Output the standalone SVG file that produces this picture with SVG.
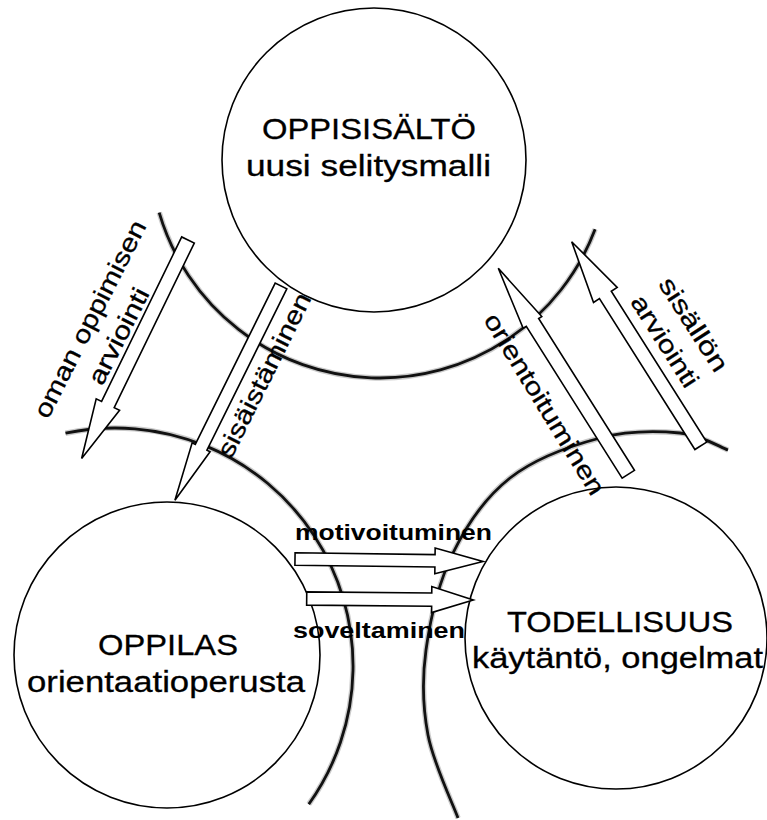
<svg xmlns="http://www.w3.org/2000/svg" xmlns:xlink="http://www.w3.org/1999/xlink" width="767" height="820" viewBox="0 0 767 820">
<style>
.halo{fill:none;stroke:#8a8a8a;stroke-width:5.5;opacity:0.45}
.arc{fill:none;stroke:#111;stroke-width:2.8}
.node{fill:#fff;stroke:#000;stroke-width:1.6}
.arrow{fill:#fff;stroke:#000;stroke-width:1.6;stroke-linejoin:miter}
.title{font-family:"Liberation Sans",Arial,sans-serif;font-size:30px;fill:#000;stroke:#000;stroke-width:0.3;text-anchor:start}
.lbl{font-family:"Liberation Sans",Arial,sans-serif;font-size:25px;fill:#000;stroke:#000;stroke-width:0.3;text-anchor:middle}
.hlbl{font-family:"Liberation Sans",Arial,sans-serif;font-size:22px;font-weight:bold;fill:#000;text-anchor:start}
</style>
<defs>
<path id="arcTop" d="M159.2,212.6 A230,230 0 0 0 595.1,229.3"/>
<path id="arcLeft" d="M65.5,433.2 A238,238 0 0 1 308.8,804.2"/>
<path id="arcRight" d="M458,818 C453,804.2 433.3,763 428,735 C422.7,707 421.8,680.3 426,650 C430.2,619.7 439,581.7 453,553 C467,524.3 485.5,497.2 510,478 C534.5,458.8 571.7,445.5 600,438 C628.3,430.5 658.7,431 680,433 C701.3,435 720,447.2 728,450"/>
</defs>
<rect width="767" height="820" fill="#fff"/>
<g id="arcs">
<use xlink:href="#arcTop" class="halo"/><use xlink:href="#arcTop" class="arc"/>
<use xlink:href="#arcLeft" class="halo"/><use xlink:href="#arcLeft" class="arc"/>
<use xlink:href="#arcRight" class="halo"/><use xlink:href="#arcRight" class="arc"/>
</g>
<g id="node-oppisisalto">
<circle class="node" cx="374" cy="160" r="152"/>
<text class="title" x="262" y="139" textLength="214" lengthAdjust="spacingAndGlyphs" font-size="28">OPPISISÄLTÖ</text>
<text class="title" x="246" y="176" textLength="245" lengthAdjust="spacingAndGlyphs" font-size="28">uusi selitysmalli</text>
</g>
<g id="node-oppilas">
<circle class="node" cx="167" cy="655" r="153"/>
<text class="title" x="98" y="655" textLength="140" lengthAdjust="spacingAndGlyphs">OPPILAS</text>
<text class="title" x="27" y="692" textLength="278" lengthAdjust="spacingAndGlyphs">orientaatioperusta</text>
</g>
<g id="node-todellisuus">
<circle class="node" cx="616" cy="638" r="151"/>
<text class="title" x="507" y="632" textLength="226" lengthAdjust="spacingAndGlyphs">TODELLISUUS</text>
<text class="title" x="472" y="668" textLength="291" lengthAdjust="spacingAndGlyphs">käytäntö, ongelmat</text>
</g>
<g id="connectors">
<polygon class="arrow" transform="translate(188,240) rotate(115.96)" points="0,-7 183,-7 183,-13 243,0 183,13 183,7 0,7"/>
<polygon class="arrow" transform="translate(281,286) rotate(116.35)" points="0,-6.5 180,-6.5 180,-10 239,0 180,10 180,6.5 0,6.5"/>
<polygon class="arrow" transform="translate(628.3,474.2) rotate(-122.27)" points="0,-7.3 179.5,-7.3 179.5,-11 243.5,0 179.5,11 179.5,7.3 0,7.3"/>
<polygon class="arrow" transform="translate(700.8,445.8) rotate(-122.32)" points="0,-7 178.5,-7 178.5,-14 241.5,0 178.5,14 178.5,7 0,7"/>
<polygon class="arrow" transform="translate(295,559) rotate(0.76)" points="0,-6.2 140,-6.2 140,-12.8 188,0 140,12.8 140,6.2 0,6.2"/>
<polygon class="arrow" transform="translate(306.7,598.5) rotate(0.5)" points="0,-6.6 125,-6.6 125,-13 166.6,0 125,13 125,6.6 0,6.6"/>
<text class="lbl" transform="translate(97.6,323) rotate(-63)" textLength="218" lengthAdjust="spacingAndGlyphs">oman oppimisen</text>
<text class="lbl" transform="translate(126.2,340) rotate(-63)" textLength="105" lengthAdjust="spacingAndGlyphs">arviointi</text>
<text class="lbl" transform="translate(271.7,378.8) rotate(-63.5)" textLength="180" lengthAdjust="spacingAndGlyphs">sisäistäminen</text>
<text class="lbl" transform="translate(537.3,408.4) rotate(58.5)" textLength="208" lengthAdjust="spacingAndGlyphs">orientoituminen</text>
<text class="lbl" transform="translate(686.5,329) rotate(57.5)" textLength="107" lengthAdjust="spacingAndGlyphs">sisällön</text>
<text class="lbl" transform="translate(657.7,345.7) rotate(57.5)" textLength="104" lengthAdjust="spacingAndGlyphs">arviointi</text>
<text class="hlbl" x="295" y="540" textLength="197" lengthAdjust="spacingAndGlyphs">motivoituminen</text>
<text class="hlbl" x="293" y="638" textLength="172" lengthAdjust="spacingAndGlyphs">soveltaminen</text>
</g>
</svg>
